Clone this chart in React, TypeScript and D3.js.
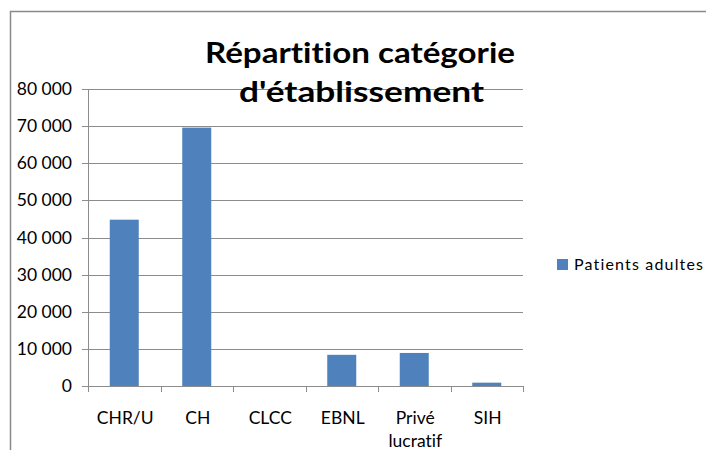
import React from "react";
import * as d3 from "d3";

const categories = ["CHR/U", "CH", "CLCC", "EBNL", "Privé\nlucratif", "SIH"];
const values = [44800, 69600, 0, 8400, 8900, 900];
const yTicks = [0, 10000, 20000, 30000, 40000, 50000, 60000, 70000, 80000];
const titleLines = ["Répartition catégorie", "d'établissement"];
const seriesName = "Patients adultes";

const W = 706;
const H = 450;
const plot = { left: 88, right: 523, top: 89, bottom: 386 };
const font = "Lato, 'Noto Sans', sans-serif";
const barColor = "#4f81bd";
const gridColor = "#8c8c8c";
const noLig = { fontVariantLigatures: "none", fontFeatureSettings: '"liga" 0, "clig" 0' } as React.CSSProperties;

export default function App() {
  const x = d3
    .scaleBand<string>()
    .domain(categories)
    .range([plot.left, plot.right])
    .paddingInner(0.6)
    .paddingOuter(0.3);
  const xb = d3.scaleBand<string>().domain(categories).range([plot.left, plot.right]);
  const y = d3.scaleLinear().domain([0, 80000]).range([plot.bottom, plot.top]);
  const fmt = (v: number) => d3.format(",")(v).replace(/,/g, " ");

  return (
    <svg
      width={W}
      height={H}
      style={{ position: "absolute", left: 0, top: 0, background: "#fff", ...noLig }}
    >
      <rect x={10.5} y={11.5} width={W} height={H} fill="#fff" stroke="#8a8a8a" strokeWidth={1.5} />
      {yTicks.map((t) => (
        <line
          key={t}
          x1={plot.left - 6}
          x2={plot.right}
          y1={Math.round(y(t)) + 0.5}
          y2={Math.round(y(t)) + 0.5}
          stroke={gridColor}
          strokeWidth={1}
        />
      ))}
      <line x1={plot.left + 0.5} x2={plot.left + 0.5} y1={plot.top} y2={plot.bottom + 6} stroke={gridColor} />
      {categories.map((c) => (
        <line
          key={c}
          x1={Math.round(xb(c)!) + 0.5}
          x2={Math.round(xb(c)!) + 0.5}
          y1={plot.bottom}
          y2={plot.bottom + 6}
          stroke={gridColor}
        />
      ))}
      <line x1={plot.right + 0.5} x2={plot.right + 0.5} y1={plot.bottom} y2={plot.bottom + 6} stroke={gridColor} />
      {categories.map((c, i) => (
        <rect
          key={c}
          x={x(c)}
          y={y(values[i])}
          width={x.bandwidth()}
          height={plot.bottom - y(values[i])}
          fill={barColor}
        />
      ))}
      {yTicks.map((t) => (
        <text
          key={t}
          x={72}
          y={y(t) + 6}
          textAnchor="end"
          fontFamily={font}
          fontSize={17.5}
          fill="#000"
          style={noLig}
        >
          {fmt(t)}
        </text>
      ))}
      {categories.map((c) => (
        <text
          key={c}
          x={xb(c)! + xb.bandwidth() / 2}
          y={424}
          textAnchor="middle"
          fontFamily={font}
          fontSize={17.5}
          fill="#000"
          style={noLig}
        >
          {c.split("\n").map((l, j) => (
            <tspan key={j} x={xb(c)! + xb.bandwidth() / 2 + 1} dy={j === 0 ? 0 : 23}>
              {l}
            </tspan>
          ))}
        </text>
      ))}
      <text x={360} y={63} textAnchor="middle" fontFamily={font} fontWeight="bold" fontSize={28} fill="#000" textLength={310} lengthAdjust="spacingAndGlyphs" style={noLig}>
        {titleLines[0]}
      </text>
      <text x={361.5} y={102} textAnchor="middle" fontFamily={font} fontWeight="bold" fontSize={28} fill="#000" textLength={245} lengthAdjust="spacingAndGlyphs" style={noLig}>
        {titleLines[1]}
      </text>
      <rect x={557} y={259} width={11} height={11} fill={barColor} />
      <text x={574} y={270} fontFamily={font} fontSize={16} fill="#000" textLength={129} lengthAdjust="spacing" style={noLig}>
        {seriesName}
      </text>
    </svg>
  );
}
